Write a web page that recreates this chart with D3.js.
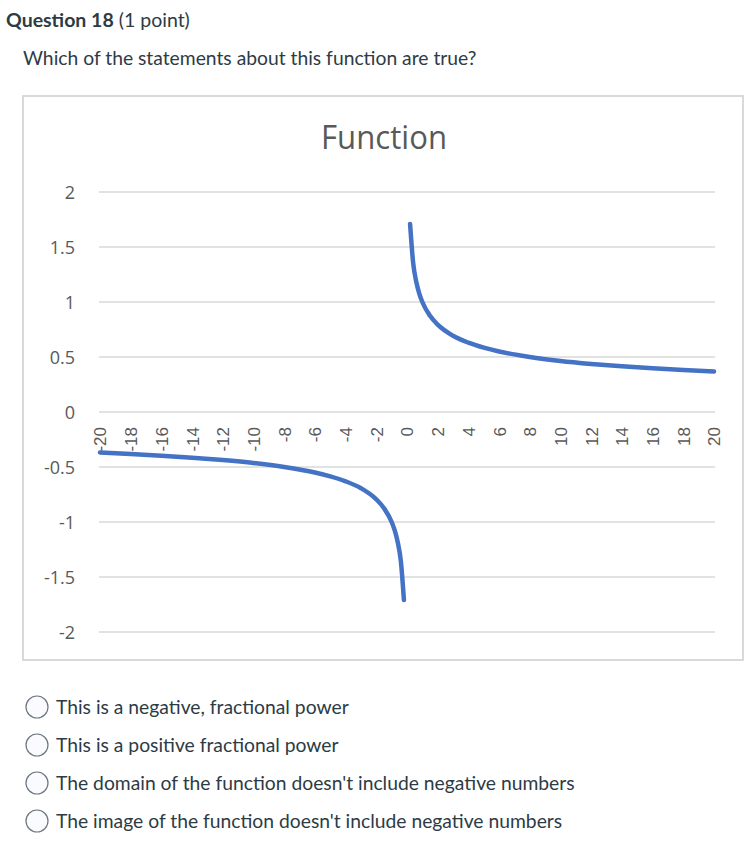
<!DOCTYPE html>
<html>
<head>
<meta charset="utf-8">
<script src="https://cdn.jsdelivr.net/npm/d3@7/dist/d3.min.js"></script>
<style>
  html, body { margin: 0; padding: 0; background: #ffffff; }
  svg { display: block; }
</style>
</head>
<body>
<div id="chart"></div>
<script>
// ---- data ----
const xValues = [-20, -18, -16, -14, -12, -10, -8, -6, -5, -4, -3, -2, -1.5, -1, -0.8, -0.6, -0.4, -0.2,
                 0,
                 0.2, 0.4, 0.6, 0.8, 1, 1.5, 2, 3, 4, 5, 6, 8, 10, 12, 14, 16, 18, 20];
const yValues = [-0.368, -0.382, -0.397, -0.415, -0.437, -0.464, -0.500, -0.550, -0.585, -0.630, -0.693, -0.794, -0.874, -1.000, -1.077, -1.186, -1.357, -1.710,
                 null,
                 1.710, 1.357, 1.186, 1.077, 1.000, 0.874, 0.794, 0.693, 0.630, 0.585, 0.550, 0.500, 0.464, 0.437, 0.415, 0.397, 0.382, 0.368];
const xTickLabels = [-20, -18, -16, -14, -12, -10, -8, -6, -4, -2, 0, 2, 4, 6, 8, 10, 12, 14, 16, 18, 20];
const yTickLabels = [-2, -1.5, -1, -0.5, 0, 0.5, 1, 1.5, 2];
const chartTitle = "Function";
const questionTitle = "Question 18";
const questionPoints = " (1 point)";
const questionText = "Which of the statements about this function are true?";
const answers = [
  "This is a negative, fractional power",
  "This is a positive fractional power",
  "The domain of the function doesn't include negative numbers",
  "The image of the function doesn't include negative numbers"
];

const W = 751, H = 855;
const svg = d3.select("#chart").append("svg").attr("width", W).attr("height", H);

const textColor = "#2d3b45";

// Heading
const h = svg.append("text").attr("x", 6).attr("y", 27)
  .attr("font-family", "Lato, sans-serif").attr("font-size", 19.5).attr("fill", textColor);
h.append("tspan").attr("font-weight", "bold").text(questionTitle);
h.append("tspan").attr("font-weight", "normal").text(questionPoints);

svg.append("text").attr("x", 23).attr("y", 65)
  .attr("font-family", "Lato, sans-serif").attr("font-size", 19.3).attr("fill", textColor)
  .text(questionText);

// Chart frame
svg.append("rect").attr("x", 23).attr("y", 96).attr("width", 720).attr("height", 564)
  .attr("fill", "#ffffff").attr("stroke", "#d9d9d9").attr("stroke-width", 2);

// Title
svg.append("text").attr("x", 384).attr("y", 149).attr("text-anchor", "middle")
  .attr("font-family", "'Open Sans', sans-serif").attr("font-size", 33).attr("fill", "#595959")
  .attr("textLength", 126).attr("lengthAdjust", "spacingAndGlyphs")
  .text(chartTitle);

// Scales
const x = d3.scaleLinear().domain([-20, 20]).range([100, 714]);
const y = d3.scaleLinear().domain([-2, 2]).range([632, 192]);

// Gridlines
svg.append("g").selectAll("line").data(yTickLabels).join("line")
  .attr("x1", 99).attr("x2", 715)
  .attr("y1", d => y(d)).attr("y2", d => y(d))
  .attr("stroke", "#d9d9d9").attr("stroke-width", 1.3);

// Y axis labels via d3 axis
const yAxis = d3.axisLeft(y).tickValues(yTickLabels).tickSize(0).tickPadding(0)
  .tickFormat(d => String(d));
const gy = svg.append("g").attr("transform", "translate(75,0)").call(yAxis);
gy.select(".domain").remove();
gy.selectAll("text").attr("font-family", "'Open Sans', sans-serif").attr("font-size", 18)
  .attr("fill", "#595959").attr("dy", "0.36em");

// X axis labels (rotated) crossing at y = 0
const xAxis = d3.axisBottom(x).tickValues(xTickLabels).tickSize(0).tickPadding(0)
  .tickFormat(d => String(d));
const gx = svg.append("g").attr("transform", `translate(0,${y(0)})`).call(xAxis);
gx.select(".domain").remove();
gx.selectAll("text")
  .attr("font-family", "'Liberation Sans', Arial, sans-serif").attr("font-size", 17)
  .attr("fill", "#595959")
  .attr("text-anchor", "end")
  .attr("transform", "translate(0,15) rotate(-90)")
  .attr("x", 0).attr("y", 0).attr("dy", "0.35em");

// Series line
const pts = xValues.map((xv, i) => ({ x: xv, y: yValues[i] }));
const line = d3.line()
  .defined(d => d.y !== null)
  .x(d => x(d.x)).y(d => y(d.y))
  .curve(d3.curveMonotoneX);
svg.append("path").datum(pts)
  .attr("d", line)
  .attr("fill", "none").attr("stroke", "#4472c4").attr("stroke-width", 4.5)
  .attr("stroke-linecap", "round").attr("stroke-linejoin", "round");

// Answers
const ag = svg.append("g").selectAll("g").data(answers).join("g")
  .attr("transform", (d, i) => `translate(0,${707 + i * 38})`);
ag.append("circle").attr("cx", 37).attr("cy", 0).attr("r", 11)
  .attr("fill", "#fbfbff").attr("stroke", "#6b7780").attr("stroke-width", 1.2);
ag.append("text").attr("x", 56).attr("y", 6.5)
  .attr("font-family", "Lato, sans-serif").attr("font-size", 19.3).attr("fill", textColor)
  .text(d => d);
</script>
</body>
</html>
